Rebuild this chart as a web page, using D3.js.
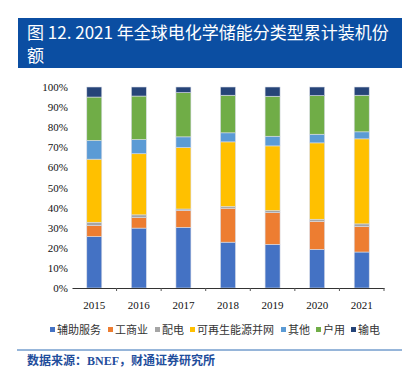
<!DOCTYPE html>
<html>
<head>
<meta charset="utf-8">
<script src="https://cdn.jsdelivr.net/npm/d3@7"></script>
<style>
  body { margin: 0; background: #fff; }
  svg { display: block; }
</style>
</head>
<body>
<div id="chart"></div>
<script>
// stacked share of cumulative installed capacity, by application

const years = ["2015", "2016", "2017", "2018", "2019", "2020", "2021"];
const seriesNames = ["辅助服务", "工商业", "配电", "可再生能源并网", "其他", "户用", "输电"];
const seriesColors = ["#4472C4", "#ED7D31", "#A5A5A5", "#FFC000", "#5B9BD5", "#70AD47", "#264478"];

// values in %
const ancillary = [25.6, 29.8, 30.2, 22.8, 21.7, 19.2, 17.9];
const commercial = [5.5, 5.2, 8.3, 16.9, 15.8, 14.0, 12.7];
const distribution = [1.6, 1.4, 0.8, 0.8, 1.0, 1.0, 1.3];
const renewables = [31.4, 30.4, 30.6, 32.2, 32.2, 38.0, 42.3];
const other = [9.3, 7.1, 5.3, 4.5, 4.8, 4.3, 3.5];
const residential = [21.6, 21.6, 22.0, 18.7, 19.9, 19.2, 18.2];
const transmission = [5.0, 4.5, 2.8, 4.1, 4.6, 4.3, 4.1];

const yTicks = [0, 10, 20, 30, 40, 50, 60, 70, 80, 90, 100];

const W = 407, H = 372;
const serif = "'Liberation Serif', 'Times New Roman', serif";
const cjk = "'Noto Sans CJK SC', sans-serif";

const svg = d3.select("#chart").append("svg")
  .attr("width", W)
  .attr("height", H);

// title box
svg.append("rect")
  .attr("x", 18).attr("y", 18)
  .attr("width", 384).attr("height", 50)
  .attr("fill", "#0B4EA2");

svg.append("text")
  .attr("x", 27).attr("y", 39)
  .attr("fill", "#fff")
  .style("font-family", cjk)
  .style("font-size", "17px")
  .text("图 12. 2021 年全球电化学储能分类型累计装机份");

svg.append("text")
  .attr("x", 27).attr("y", 62)
  .attr("fill", "#fff")
  .style("font-family", cjk)
  .style("font-size", "17px")
  .text("额");

// table for the stack
const table = years.map((y, i) => ({
  year: y,
  "辅助服务": ancillary[i],
  "工商业": commercial[i],
  "配电": distribution[i],
  "可再生能源并网": renewables[i],
  "其他": other[i],
  "户用": residential[i],
  "输电": transmission[i]
}));

const stack = d3.stack().keys(seriesNames)(table);

// scales
const x = d3.scaleBand()
  .domain(years)
  .range([72, 384])
  .paddingInner(0)
  .paddingOuter(0);

const y = d3.scaleLinear()
  .domain([0, 100])
  .range([288, 87]);

const color = d3.scaleOrdinal().domain(seriesNames).range(seriesColors);

const barW = 15;

// bars
svg.append("g")
  .selectAll("g")
  .data(stack)
  .join("g")
    .attr("fill", d => color(d.key))
  .selectAll("rect")
  .data(d => d)
  .join("rect")
    .attr("x", d => x(d.data.year) + x.bandwidth() / 2 - barW / 2)
    .attr("y", d => y(Math.min(d[1], 100)))
    .attr("height", d => y(d[0]) - y(Math.min(d[1], 100)))
    .attr("width", barW)
    .attr("stroke", "#d9dde6")
    .attr("stroke-width", 0.6);

// x axis
svg.append("g")
  .attr("transform", `translate(0,${y(0)})`)
  .call(d3.axisBottom(x).tickSize(0).tickPadding(13))
  .call(g => g.select(".domain").attr("stroke", "#333").attr("stroke-width", 1.2))
  .call(g => g.selectAll(".tick text")
    .style("font-family", serif)
    .style("font-size", "11px")
    .attr("fill", "#111"));

// boundary tick marks
svg.append("g")
  .selectAll("line")
  .data(years)
  .join("line")
    .attr("x1", d => x(d) + x.bandwidth())
    .attr("x2", d => x(d) + x.bandwidth())
    .attr("y1", y(0))
    .attr("y2", y(0) + 3)
    .attr("stroke", "#555")
    .attr("stroke-width", 1);

// y axis (labels only)
svg.append("g")
  .attr("transform", "translate(68,0)")
  .call(d3.axisLeft(y).tickValues(yTicks).tickSize(0).tickPadding(0).tickFormat(d => d + "%"))
  .call(g => g.select(".domain").remove())
  .call(g => g.selectAll(".tick text")
    .style("font-family", serif)
    .style("font-size", "11px")
    .attr("fill", "#111"));

// legend
const legendX = [50, 108, 155, 190, 281, 316, 351];
const legend = svg.append("g")
  .selectAll("g")
  .data(seriesNames)
  .join("g")
    .attr("transform", (d, i) => `translate(${legendX[i]},329.5)`);

legend.append("rect")
  .attr("x", 0).attr("y", -2.5)
  .attr("width", 5).attr("height", 5)
  .attr("fill", d => color(d));

legend.append("text")
  .attr("x", 7).attr("y", 4)
  .style("font-family", cjk)
  .style("font-size", "11px")
  .attr("fill", "#333")
  .text(d => d);

// bottom rule and source
svg.append("line")
  .attr("x1", 17).attr("x2", 402)
  .attr("y1", 350).attr("y2", 350)
  .attr("stroke", "#2E6DB4")
  .attr("stroke-width", 1);

svg.append("text")
  .attr("x", 27).attr("y", 365)
  .attr("fill", "#1F4E9C")
  .style("font-family", "'Liberation Serif', 'Noto Sans CJK SC', serif")
  .style("font-weight", "bold")
  .style("font-size", "12px")
  .text("数据来源：BNEF，财通证券研究所");
</script>
</body>
</html>
